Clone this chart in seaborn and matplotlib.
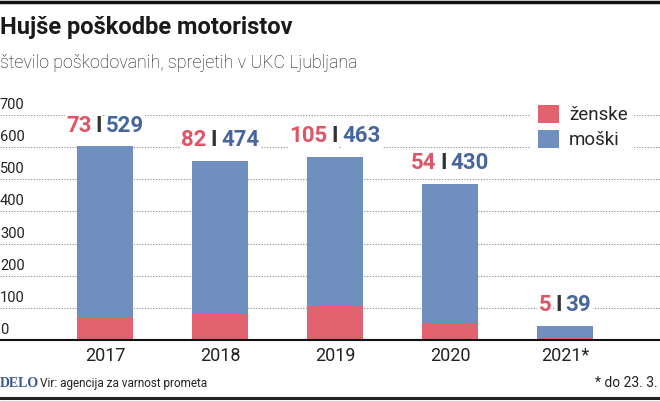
import matplotlib
matplotlib.use("Agg")
import matplotlib.pyplot as plt
import matplotlib.transforms as mtransforms
from matplotlib.patches import Patch
from matplotlib.lines import Line2D
import seaborn as sns
import pandas as pd

# ---- data ----
years = ["2017", "2018", "2019", "2020", "2021*"]
zenske = [73, 82, 105, 54, 5]
moski = [529, 474, 463, 430, 39]
yticks = [0, 100, 200, 300, 400, 500, 600, 700]

title = "Hujše poškodbe motoristov"
subtitle = "število poškodovanih, sprejetih v UKC Ljubljana"
source = "Vir: agencija za varnost prometa"
note = "* do 23. 3."

PINK = "#e2636f"
BLUE = "#6f8fbf"
PINK_T = "#e05565"
BLUE_T = "#46679e"
FONT = "Roboto"

sns.set_theme(style="white")
plt.rcParams["font.family"] = [FONT, "DejaVu Sans"]

df = pd.DataFrame({"year": years, "zenske": zenske, "moski": moski})
df["total"] = df["zenske"] + df["moski"]

W, H = 660, 401
fig = plt.figure(figsize=(W / 100, H / 100), dpi=100)
ax = fig.add_axes([0, 1 - 340 / H, 1, (340 - 115) / H])

sns.barplot(data=df, x="year", y="total", color=BLUE, width=0.49,
            saturation=1, linewidth=0, ax=ax, zorder=3)
sns.barplot(data=df, x="year", y="zenske", color=PINK, width=0.49,
            saturation=1, linewidth=0, ax=ax, zorder=4)

ax.set_xlim(-105 / 115, 4 + 95 / 115)
ax.set_ylim(0, 700)
ax.set_xlabel("")
ax.set_ylabel("")
ax.set_yticks([])
for s in ["top", "right", "left"]:
    ax.spines[s].set_visible(False)
ax.spines["bottom"].set_color("#111111")
ax.spines["bottom"].set_linewidth(1.5)
ax.spines["bottom"].set_zorder(6)
ax.tick_params(axis="x", length=0, pad=5, labelsize=13, labelcolor="#222222")

# dotted grid lines + labels above them
tr = mtransforms.blended_transform_factory(ax.transAxes, ax.transData)
off = mtransforms.ScaledTranslation(0, 3 / 100, fig.dpi_scale_trans)
for v in yticks:
    if v > 0:
        ax.axhline(v, color="#888888", lw=0.8, ls=(0, (1, 1.5)), zorder=1)
    ax.text(0.0, v, str(v), transform=tr + off, ha="left", va="bottom",
            fontsize=10.5, color="#222222")

# value annotations "ž | m"
fig.canvas.draw()
renderer = fig.canvas.get_renderer()
for i, (z, m, tot) in enumerate(zip(zenske, moski, df["total"])):
    parts = [(str(z), PINK_T), ("I", "#333333"), (str(m), BLUE_T)]
    texts = []
    widths = []
    for s, c in parts:
        t = ax.text(i, tot, s, color=c, fontsize=16, fontweight="bold",
                    ha="left", va="bottom", zorder=7,
                    bbox=dict(facecolor="white", edgecolor="none", pad=1))
        texts.append(t)
        widths.append(t.get_window_extent(renderer).width)
    gap = 4
    total_w = sum(widths) + 2 * gap
    x0 = -total_w / 2
    for t, w in zip(texts, widths):
        t.set_transform(ax.transData + mtransforms.ScaledTranslation(
            x0 / 100, 10 / 100, fig.dpi_scale_trans))
        x0 += w + gap

# legend
handles = [Patch(facecolor=PINK, edgecolor="none", label="ženske"),
           Patch(facecolor=BLUE, edgecolor="none", label="moški")]
leg = fig.legend(handles=handles, loc="upper left",
                 bbox_to_anchor=(522 / W, 1 - 89 / H), frameon=True,
                 fontsize=13.5, handlelength=1.1, handleheight=1.1,
                 handletextpad=0.55, labelspacing=0.3, borderpad=0.35)
leg.get_frame().set_facecolor("white")
leg.get_frame().set_edgecolor("none")
leg.get_frame().set_alpha(1)

# title and subtitle
fig.text(0 / W, 1 - 34 / H, title, fontsize=17, fontweight="bold",
         color="#1a1a1a", ha="left", va="baseline")
fig.text(0 / W, 1 - 68 / H, subtitle, fontsize=12.8, fontweight="light",
         color="#111111", ha="left", va="baseline")

# footer
fig.text(0, 1 - 387 / H, "DELO", fontsize=10, fontweight="bold",
         family="Liberation Serif", color="#3b5a8a", ha="left", va="baseline")
fig.text(40 / W, 1 - 387 / H, source, fontsize=8.5, color="#222222",
         ha="left", va="baseline")
fig.text(1 - 2 / W, 1 - 387 / H, note, fontsize=10, color="#222222",
         ha="right", va="baseline")

# frame lines
fig.add_artist(Line2D([0, 1], [1 - 1.5 / H, 1 - 1.5 / H], color="#111111",
                      lw=2.5, transform=fig.transFigure))
fig.add_artist(Line2D([0, 1], [1 - 398 / H, 1 - 398 / H], color="#222222",
                      lw=2.2, transform=fig.transFigure))

fig.savefig("out.png", dpi=100, facecolor="white")
